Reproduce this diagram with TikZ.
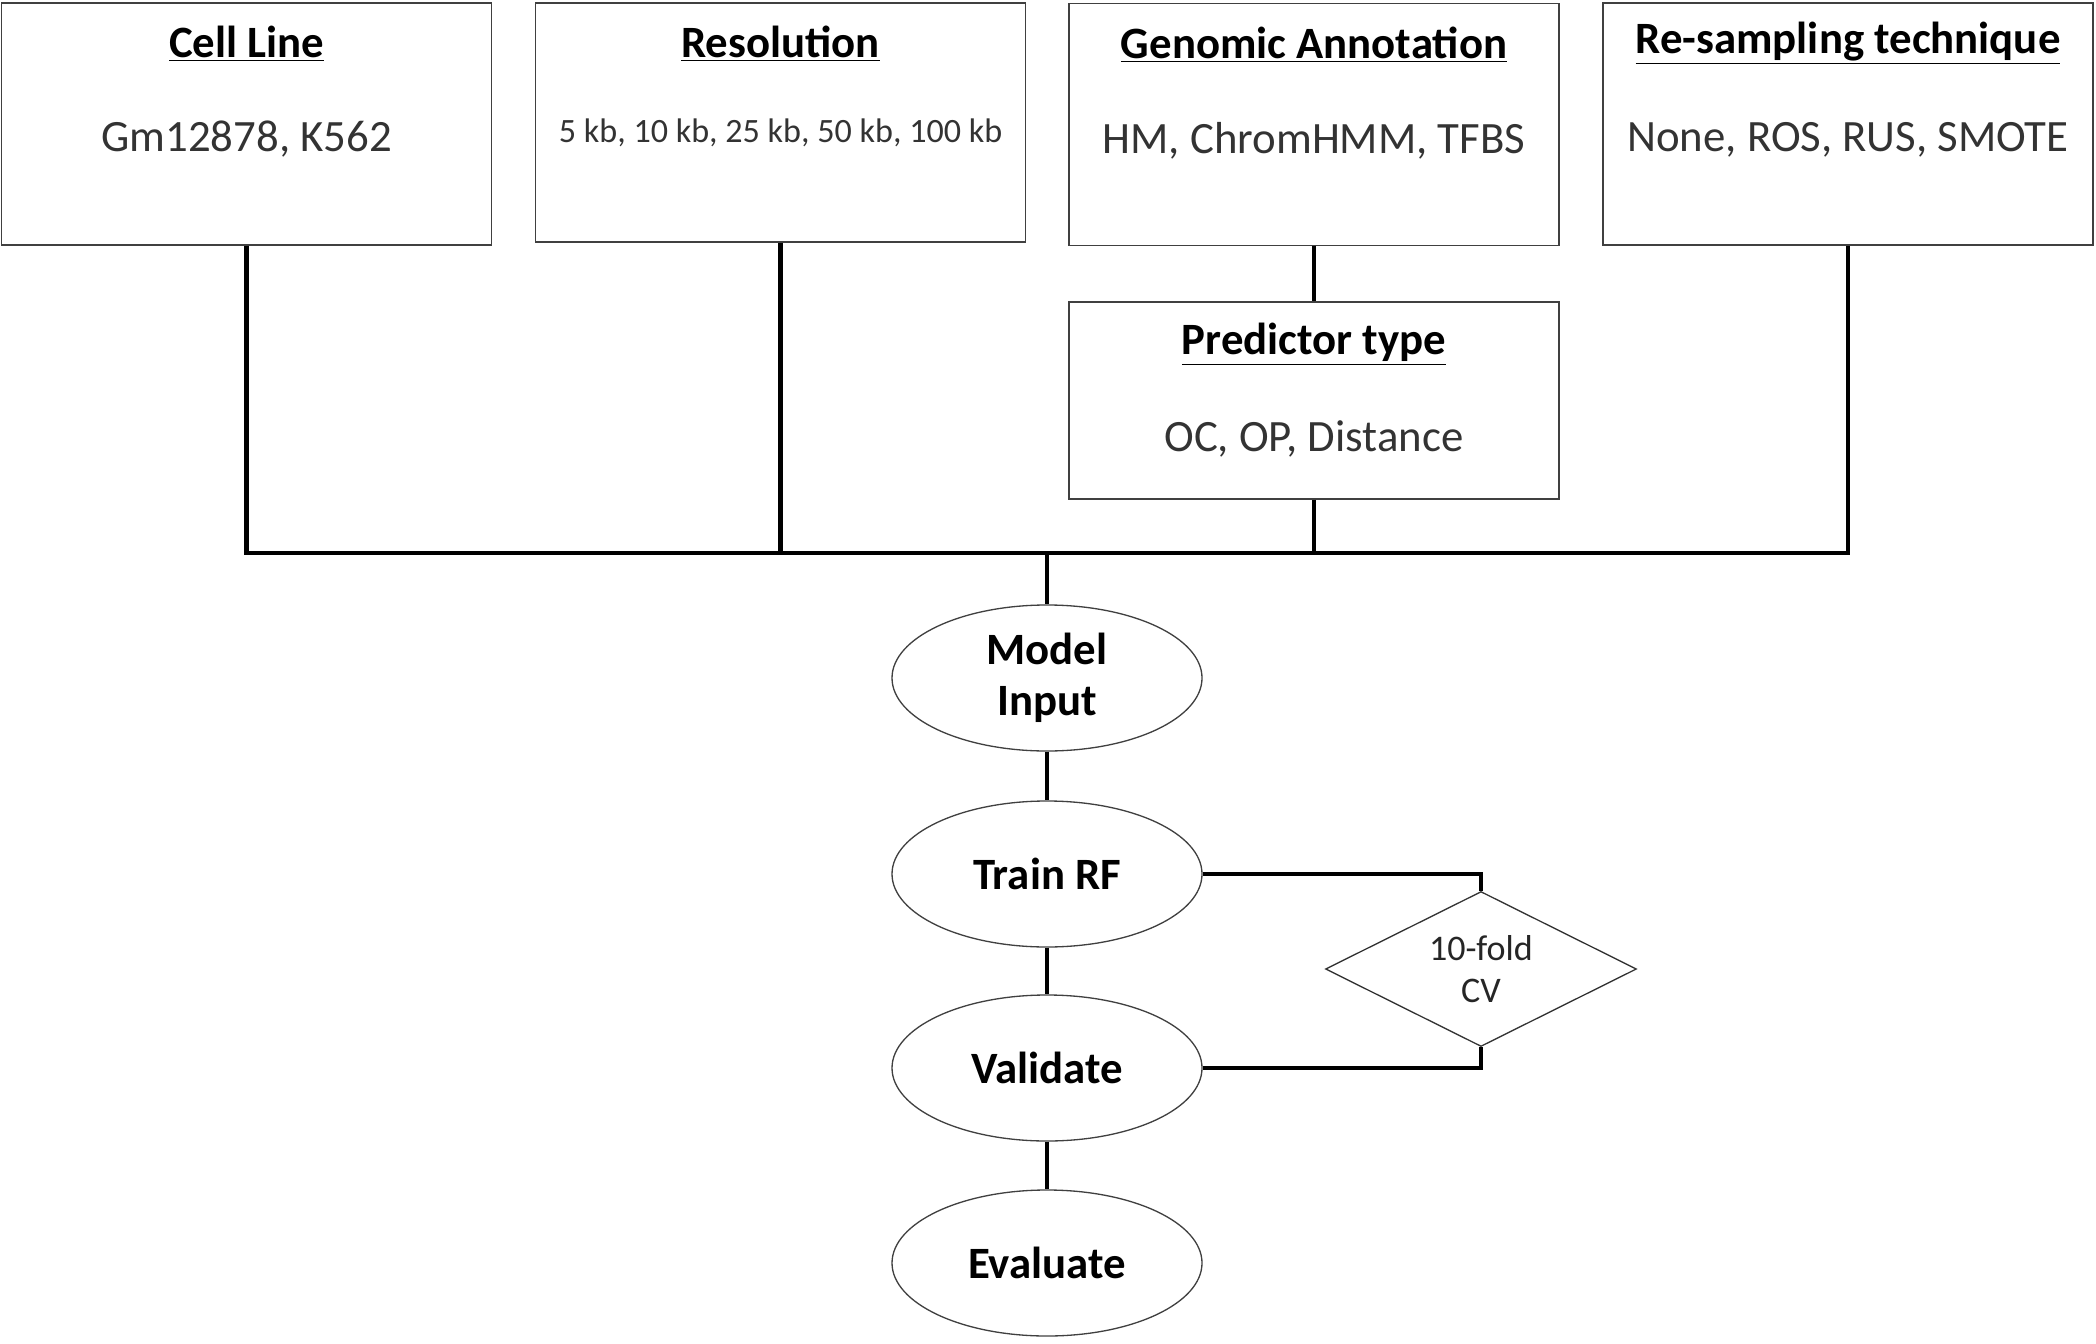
\documentclass[tikz,border=0pt]{standalone}
\usepackage{fontspec}
\setmainfont{Carlito}
\usetikzlibrary{shapes.geometric, positioning}

\tikzset{
    factor/.style={draw=black!75, line width=0.75pt, minimum width=9.8cm, minimum height=4.84cm, inner sep=0pt},
    heading/.style={font=\fontsize{25.5}{31}\selectfont\bfseries},
    choice/.style={font=\fontsize{25.5}{31}\selectfont, text=black!80},
    stage/.style={ellipse, draw=black!75, line width=0.75pt, minimum width=6.2cm, minimum height=2.92cm, align=center, font=\fontsize{25.5}{30}\selectfont\bfseries},
    check/.style={diamond, aspect=2, draw=black!80, line width=0.75pt, minimum width=6.22cm, minimum height=3.1cm, inner sep=0pt, align=center, font=\fontsize{20.5}{24}\selectfont, text=black!85},
    link/.style={line width=2.8pt}
}

\begin{document}
\begin{tikzpicture}
    \useasboundingbox (0,0) rectangle (41.92,-26.88);

    \node[factor] (cell) at (4.93,-2.48) {};
    \node[heading] (cellT) at ([yshift=-0.82cm]cell.north) {\underline{Cell Line}};
    \node[choice] (cellC) at ([yshift=-2.74cm]cell.north) {Gm12878, K562};

    \node[factor, minimum height=4.78cm] (res) at (15.61,-2.45) {};
    \node[heading] (resT) at ([yshift=-0.82cm]res.north) {\underline{Resolution}};
    \node[choice, font=\fontsize{19.4}{24}\selectfont] (resC) at ([yshift=-2.62cm]res.north) {5 kb, 10 kb, 25 kb, 50 kb, 100 kb};

    \node[factor] (genome) at (26.28,-2.49) {};
    \node[heading] (genomeT) at ([yshift=-0.84cm]genome.north) {\underline{Genomic Annotation}};
    \node[choice] (genomeC) at ([yshift=-2.76cm]genome.north) {HM, ChromHMM, TFBS};

    \node[factor] (resample) at (36.96,-2.48) {};
    \node[heading] (resampleT) at ([yshift=-0.82cm]resample.north) {\underline{Re-sampling technique}};
    \node[choice] (resampleC) at ([yshift=-2.74cm]resample.north) {None, ROS, RUS, SMOTE};

    \node[factor, minimum height=3.94cm] (pred) at (26.28,-8.01) {};
    \node[heading] (predT) at ([yshift=-0.86cm]pred.north) {\underline{Predictor type}};
    \node[choice] (predC) at ([yshift=-2.76cm]pred.north) {OC, OP, Distance};

    \coordinate (bus) at (20.94,-11.06);

    \node[stage] (input) at (20.94,-13.56) {Model\\[-0.04cm]Input};
    \node[stage] (train) at (20.94,-17.48) {Train RF};
    \node[stage] (validate) at (20.94,-21.36) {Validate};
    \node[stage] (evaluate) at (20.94,-25.26) {Evaluate};

    \node[check] (cv) at (29.62,-19.38) {10-fold\\CV};

    \draw [link] (cell.south) |- (resample.south |- bus) -- (resample.south);
    \draw [link] (res.south) -- (res.south |- bus);
    \draw [link] (genome.south) -- (pred.north);
    \draw [link] (pred.south) -- (pred.south |- bus);
    \draw [link] (bus) -- (input.north);

    \draw [link] (input) -- (train);
    \draw [link] (train) -- (validate);
    \draw [link] (validate) -- (evaluate);

    \draw [link] (train.east) -| (cv.north);
    \draw [link] (validate.east) -| (cv.south);

\end{tikzpicture}
\end{document}
